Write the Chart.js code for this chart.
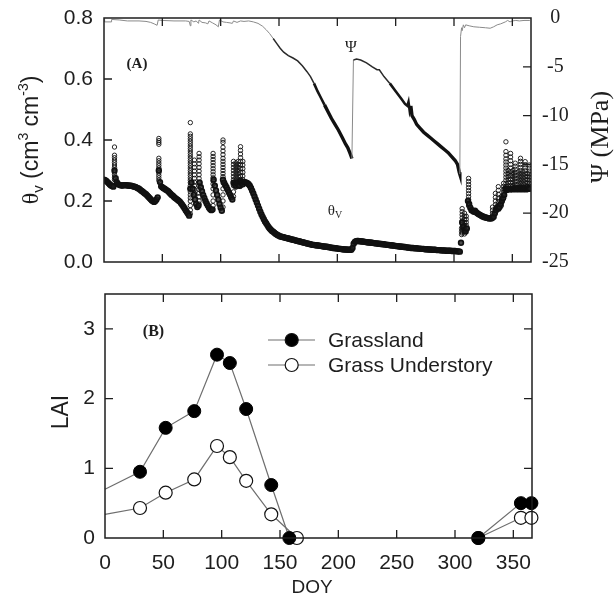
<!DOCTYPE html>
<html>
<head>
<meta charset="utf-8">
<script src="https://cdn.jsdelivr.net/npm/chart.js@4.4.0/dist/chart.umd.min.js"></script>
<style>
  body { margin: 0; background: #fff; }
  #wrap { position: relative; width: 614px; height: 597px; }
  #top { position: absolute; left: 0; top: 0; }
  #bottom { position: absolute; left: 0; top: 280px; }
</style>
</head>
<body>
<div id="wrap">
  <canvas id="top" width="614" height="280"></canvas>
  <canvas id="bottom" width="614" height="317"></canvas>
</div>
<script>
// ---- panel A: soil water content, one reading per DOY starting at DOY 0
const thetaDaily = [
  0.270, 0.268, 0.266, 0.262, 0.258, 0.254, 0.251, 0.249, 0.247, 0.300,
  0.275, 0.262, 0.256, 0.253, 0.252, 0.251, 0.251, 0.252, 0.252, 0.252,
  0.251, 0.251, 0.250, 0.250, 0.249, 0.248, 0.247, 0.246, 0.244, 0.242,
  0.240, 0.237, 0.234, 0.231, 0.228, 0.225, 0.222, 0.218, 0.214, 0.210,
  0.206, 0.202, 0.199, 0.197, 0.200, 0.205, 0.212, 0.300, 0.262, 0.248,
  0.245, 0.242, 0.240, 0.237, 0.235, 0.232, 0.228, 0.224, 0.220, 0.217,
  0.213, 0.210, 0.207, 0.204, 0.201, 0.198, 0.193, 0.188, 0.182, 0.176,
  0.170, 0.164, 0.158, 0.152, 0.240, 0.260, 0.240, 0.220, 0.205, 0.190,
  0.180, 0.185, 0.260, 0.245, 0.232, 0.220, 0.210, 0.200, 0.192, 0.185,
  0.178, 0.173, 0.170, 0.172, 0.270, 0.250, 0.235, 0.220, 0.205, 0.190,
  0.178, 0.168, 0.270, 0.260, 0.252, 0.245, 0.237, 0.229, 0.221, 0.212,
  0.205, 0.260, 0.255, 0.250, 0.260, 0.255, 0.250, 0.265, 0.260, 0.255,
  0.262, 0.262, 0.260, 0.258, 0.255, 0.250, 0.243, 0.234, 0.225, 0.215,
  0.205, 0.195, 0.185, 0.175, 0.165, 0.156, 0.148, 0.140, 0.133, 0.127,
  0.121, 0.115, 0.110, 0.106, 0.102, 0.099, 0.096, 0.093, 0.090, 0.088,
  0.086, 0.084, 0.083, 0.082, 0.081, 0.080, 0.079, 0.078, 0.077, 0.076,
  0.075, 0.074, 0.073, 0.072, 0.071, 0.070, 0.069, 0.068, 0.067, 0.066,
  0.065, 0.064, 0.063, 0.062, 0.061, 0.060, 0.059, 0.058, 0.057, 0.056,
  0.056, 0.055, 0.055, 0.054, 0.054, 0.053, 0.053, 0.052, 0.051, 0.051,
  0.050, 0.050, 0.049, 0.048, 0.048, 0.047, 0.046, 0.046, 0.045, 0.045,
  0.044, 0.044, 0.043, 0.043, 0.042, 0.042, 0.041, 0.041, 0.041, 0.040,
  0.040, 0.040, 0.040, 0.046, 0.060, 0.066, 0.068, 0.069, 0.069, 0.068,
  0.068, 0.067, 0.067, 0.066, 0.066, 0.065, 0.065, 0.064, 0.064, 0.063,
  0.063, 0.062, 0.062, 0.061, 0.061, 0.060, 0.060, 0.059, 0.059, 0.058,
  0.058, 0.057, 0.057, 0.056, 0.056, 0.055, 0.055, 0.054, 0.054, 0.053,
  0.053, 0.052, 0.052, 0.051, 0.051, 0.050, 0.050, 0.049, 0.049, 0.048,
  0.048, 0.047, 0.047, 0.046, 0.046, 0.046, 0.045, 0.045, 0.045, 0.044,
  0.044, 0.044, 0.043, 0.043, 0.043, 0.042, 0.042, 0.042, 0.041, 0.041,
  0.041, 0.040, 0.040, 0.040, 0.040, 0.039, 0.039, 0.039, 0.039, 0.038,
  0.038, 0.038, 0.038, 0.037, 0.037, 0.037, 0.037, 0.037, 0.036, 0.036,
  0.036, 0.036, 0.035, 0.035, 0.035, 0.034, 0.063, 0.130, 0.115, 0.105,
  0.100, 0.110, 0.200, 0.190, 0.178, 0.170, 0.168, 0.165, 0.168, 0.163,
  0.160, 0.157, 0.155, 0.153, 0.150, 0.149, 0.147, 0.146, 0.145, 0.144,
  0.143, 0.143, 0.143, 0.145, 0.148, 0.160, 0.170, 0.180, 0.175, 0.180,
  0.190, 0.200, 0.210, 0.220, 0.240, 0.236, 0.238, 0.240, 0.238, 0.240,
  0.238, 0.240, 0.242, 0.238, 0.240, 0.242, 0.238, 0.240, 0.242, 0.238,
  0.240, 0.242, 0.238, 0.240, 0.242, 0.240
];

// rain events: readings stacked in a column at the DOY of the storm
const rainDoy = [9, 47, 74, 77.5, 81.5, 93.5, 102, 111, 113, 115, 117, 119,
  306.5, 307, 309, 310.5, 312.5, 333, 335.5, 338, 340.5, 342.5,
  344.5, 346.5, 348.5, 350.5, 352.5, 355, 357, 359, 361, 363, 364.5];
const rainVals = [
  [0.377, 0.350, 0.342, 0.334, 0.326, 0.318, 0.310, 0.302, 0.294, 0.286, 0.278, 0.270],
  [0.405, 0.398, 0.392, 0.386, 0.340, 0.332, 0.324, 0.316, 0.308, 0.300, 0.292, 0.284, 0.276, 0.268],
  [0.457, 0.420, 0.412, 0.404, 0.396, 0.388, 0.380, 0.372, 0.364, 0.356, 0.348, 0.340, 0.332, 0.324,
   0.316, 0.308, 0.300, 0.292, 0.284, 0.276, 0.268, 0.260, 0.250, 0.240, 0.230, 0.220, 0.210, 0.200,
   0.185, 0.170, 0.158],
  [0.334, 0.322, 0.310, 0.298, 0.286, 0.274, 0.262, 0.250, 0.238, 0.226],
  [0.356, 0.345, 0.334, 0.322, 0.310, 0.298, 0.286, 0.274, 0.262, 0.250, 0.238, 0.226, 0.214, 0.200, 0.190],
  [0.356, 0.346, 0.336, 0.326, 0.316, 0.306, 0.296, 0.286, 0.276, 0.266, 0.256, 0.240, 0.220, 0.200, 0.185],
  [0.400, 0.392, 0.376, 0.364, 0.352, 0.340, 0.330, 0.320, 0.310, 0.300, 0.290, 0.280, 0.260, 0.240, 0.220, 0.200, 0.180],
  [0.330, 0.320, 0.310, 0.300, 0.290, 0.280, 0.270, 0.250, 0.230, 0.215],
  [0.325, 0.315, 0.305, 0.295, 0.285, 0.275, 0.265, 0.255, 0.245],
  [0.330, 0.320, 0.310, 0.300, 0.290, 0.280, 0.270, 0.260, 0.250],
  [0.378, 0.366, 0.354, 0.342, 0.330, 0.318, 0.306, 0.294, 0.282, 0.270, 0.258, 0.248],
  [0.330, 0.318, 0.306, 0.294, 0.282, 0.270, 0.260],
  [0.090, 0.100, 0.110],
  [0.175, 0.165, 0.155, 0.145, 0.135, 0.125, 0.115, 0.105, 0.095],
  [0.160, 0.150, 0.140, 0.130, 0.120, 0.110, 0.100, 0.092],
  [0.150, 0.140, 0.130, 0.120, 0.110],
  [0.274, 0.264, 0.254, 0.244, 0.234, 0.224, 0.214, 0.204, 0.194, 0.184],
  [0.180, 0.170, 0.160, 0.152],
  [0.225, 0.212, 0.200, 0.188, 0.176, 0.165],
  [0.247, 0.235, 0.222, 0.210, 0.198, 0.186, 0.175],
  [0.214, 0.204, 0.194, 0.184],
  [0.258, 0.248, 0.238, 0.228, 0.218, 0.208],
  [0.394, 0.362, 0.350, 0.338, 0.328, 0.318, 0.308, 0.298, 0.288, 0.278, 0.268, 0.258, 0.248],
  [0.300, 0.290, 0.280, 0.270, 0.260, 0.250],
  [0.356, 0.344, 0.332, 0.320, 0.308, 0.296, 0.284, 0.272, 0.260, 0.250, 0.242],
  [0.300, 0.290, 0.280, 0.270, 0.260, 0.250],
  [0.324, 0.314, 0.304, 0.294, 0.284, 0.274, 0.264, 0.254, 0.246],
  [0.295, 0.285, 0.275, 0.265, 0.255, 0.245],
  [0.340, 0.330, 0.320, 0.310, 0.300, 0.290, 0.280, 0.270, 0.260, 0.250, 0.242],
  [0.295, 0.285, 0.275, 0.265, 0.255, 0.245],
  [0.329, 0.319, 0.309, 0.299, 0.289, 0.279, 0.269, 0.259, 0.249],
  [0.290, 0.280, 0.270, 0.260, 0.250],
  [0.318, 0.308, 0.298, 0.288, 0.278, 0.268, 0.258, 0.248]
];

// leaf water potential (MPa)
const psiDoy = [0, 0.5, 6, 6.5, 13, 20, 30, 36, 40, 43, 45.5, 46.5, 50, 60, 70, 73, 74, 74.5,
  77, 79, 81, 81.5, 84, 87, 89, 90, 93, 96, 98, 99, 102, 105, 108, 110, 111, 114, 117, 120,
  124, 128, 132, 136, 139, 142, 145, 148, 151, 154, 158, 162, 166, 170, 174, 177, 180, 183,
  186, 189, 192, 195, 198, 201, 204, 207, 209, 211, 212.5, 213.8, 216.5, 220, 225, 230, 234,
  236, 240, 245, 250, 255, 258, 260, 261, 262, 263, 264, 266, 268, 271, 274, 277, 280, 283,
  286, 289, 292, 295, 298, 301, 303, 304.5, 305, 305.6, 306.5, 307, 308, 309, 310, 313, 317,
  322, 327, 331, 334, 337, 340, 342, 344, 346, 348, 350, 353, 356, 360, 365];
const psiVal = [-0.15, -0.4, -0.4, -0.15, -0.2, -0.3, -0.3, -0.35, -0.45, -0.6, -0.75, -0.2,
  -0.25, -0.3, -0.3, -0.35, -0.8, -0.2, -0.4, -0.3, -0.55, -0.2, -0.45, -0.5, -0.6, -0.3,
  -0.5, -0.7, -0.9, -0.2, -0.4, -0.45, -0.5, -0.55, -0.3, -0.45, -0.3, -0.35, -0.3, -0.4,
  -0.55, -0.85, -1.2, -1.6, -2.1, -2.6, -3.1, -3.5, -3.85, -4.1, -4.4, -4.9, -5.5, -6.0,
  -6.7, -7.5, -8.2, -8.9, -9.6, -10.3, -10.9, -11.5, -12.2, -12.9, -13.3, -13.9, -14.4,
  -4.3, -4.2, -4.3, -4.6, -5.0, -5.3, -5.3, -6.0, -6.7, -7.5, -8.3, -8.8, -9.0, -8.6, -9.5,
  -9.0, -10.0, -10.4, -10.9, -11.3, -11.7, -12.0, -12.3, -12.6, -12.9, -13.2, -13.5, -13.8,
  -14.2, -14.6, -15.0, -15.8, -16.0, -1.9, -1.0, -1.3, -0.7, -1.0, -0.7, -0.8, -0.9, -0.95,
  -1.0, -1.05, -0.9, -0.7, -0.6, -0.5, -0.4, -0.25, -0.4, -0.3, -0.25, -0.3, -0.25, -0.25];

const doyTicks = [0, 50, 100, 150, 200, 250, 300, 350];
const thetaTicks = [0, 0.2, 0.4, 0.6, 0.8];
const psiTicks = [0, -5, -10, -15, -20, -25];

// ---- panel B: leaf area index (null = no measurement, line is broken)
const grassDoy = [0, 30, 52, 76.5, 96, 107, 121, 142.5, 158, 240, 320, 356.5, 365.5];
const grassLai = [0.70, 0.95, 1.58, 1.82, 2.63, 2.51, 1.85, 0.76, 0, null, 0, 0.50, 0.50];
const underDoy = [0, 30, 52, 76.5, 96, 107, 121, 142.5, 164.5, 240, 320, 356.5, 365.5];
const underLai = [0.34, 0.43, 0.65, 0.84, 1.32, 1.16, 0.82, 0.34, 0, null, 0, 0.29, 0.29];
const laiTicks = [0, 1, 2, 3];

const SANS = '"Liberation Sans", Arial, sans-serif';
const SERIF = '"Liberation Serif", "Times New Roman", serif';
const INK = '#1e1e1e';

const thetaBase = thetaDaily.map((v, i) => ({ x: i, y: v }));
const thetaRain = [];
rainDoy.forEach((d, i) => rainVals[i].forEach(v => thetaRain.push({ x: d, y: v })));
const psiPoints = psiDoy.map((d, i) => ({ x: d, y: psiVal[i] }));

function richText(ctx, parts, cx, cy, angle) {
  ctx.save();
  ctx.translate(cx, cy);
  ctx.rotate(angle);
  ctx.textAlign = 'left';
  ctx.textBaseline = 'alphabetic';
  ctx.fillStyle = INK;
  let w = 0;
  parts.forEach(p => { ctx.font = p.font; p.w = ctx.measureText(p.t).width; w += p.w; });
  let x = -w / 2;
  parts.forEach(p => { ctx.font = p.font; ctx.fillText(p.t, x, p.dy || 0); x += p.w; });
  ctx.restore();
}

function frameAndTicks(ctx, a, xs, ys, yTicks, y2s, y2Ticks) {
  ctx.save();
  ctx.strokeStyle = INK;
  ctx.lineWidth = 1.5;
  ctx.strokeRect(a.left, a.top, a.right - a.left, a.bottom - a.top);
  ctx.lineWidth = 1.3;
  ctx.beginPath();
  doyTicks.filter(v => v > 0).forEach(v => {
    const px = xs.getPixelForValue(v);
    ctx.moveTo(px, a.top); ctx.lineTo(px, a.top + 8);
    ctx.moveTo(px, a.bottom); ctx.lineTo(px, a.bottom - 8);
  });
  yTicks.slice(1, -1).forEach(v => {
    const py = ys.getPixelForValue(v);
    ctx.moveTo(a.left, py); ctx.lineTo(a.left + 8, py);
    if (!y2s) { ctx.moveTo(a.right, py); ctx.lineTo(a.right - 8, py); }
  });
  if (y2s) {
    y2Ticks.slice(1, -1).forEach(v => {
      const py = y2s.getPixelForValue(v);
      ctx.moveTo(a.right, py); ctx.lineTo(a.right - 8, py);
    });
  }
  ctx.stroke();
  ctx.restore();
}

// keep the fixed plot frame: no extra room for half tick labels
function fixWidth(w) {
  return s => { s.width = w; s.paddingTop = 0; s.paddingBottom = 0; };
}

const topDecor = {
  id: 'topDecor',
  afterDraw(chart) {
    const { ctx, chartArea: a, scales } = chart;
    frameAndTicks(ctx, a, scales.x, scales.y, thetaTicks, scales.y2, psiTicks);
    ctx.save();
    ctx.fillStyle = INK;
    ctx.textAlign = 'center';
    ctx.textBaseline = 'middle';
    ctx.font = 'bold 15px ' + SERIF;
    ctx.fillText('(A)', 137, 64);
    ctx.font = '16px ' + SERIF;
    ctx.fillText('Ψ', 351, 48);
    ctx.restore();
    richText(ctx, [
      { t: 'θ', font: '15px ' + SERIF },
      { t: 'V', font: '10px ' + SERIF, dy: 3 }
    ], 335, 215, 0);
    richText(ctx, [
      { t: 'θ', font: '24px ' + SERIF },
      { t: 'v', font: '15px ' + SANS, dy: 5 },
      { t: ' (cm', font: '23px ' + SANS },
      { t: '3', font: '14px ' + SANS, dy: -10 },
      { t: ' cm', font: '23px ' + SANS },
      { t: '-3', font: '14px ' + SANS, dy: -10 },
      { t: ')', font: '23px ' + SANS }
    ], 38, 140, -Math.PI / 2);
    richText(ctx, [{ t: 'Ψ (MPa)', font: '26px ' + SERIF }], 608, 137, -Math.PI / 2);
  }
};

const bottomDecor = {
  id: 'bottomDecor',
  afterDraw(chart) {
    const { ctx, chartArea: a, scales } = chart;
    frameAndTicks(ctx, a, scales.x, scales.y, [0, 1, 2, 3, 3.5], null, null);
    ctx.save();
    ctx.fillStyle = INK;
    ctx.textAlign = 'center';
    ctx.textBaseline = 'middle';
    ctx.font = 'bold 16px ' + SERIF;
    ctx.fillText('(B)', 153.5, 52);
    ctx.font = '19px ' + SANS;
    ctx.fillText('DOY', 312, 308);
    // legend
    const rows = [
      { label: 'Grassland', y: 60, fill: '#000' },
      { label: 'Grass Understory', y: 85, fill: '#fff' }
    ];
    rows.forEach(r => {
      ctx.strokeStyle = '#6e6e6e';
      ctx.lineWidth = 1.2;
      ctx.beginPath();
      ctx.moveTo(268, r.y); ctx.lineTo(315, r.y);
      ctx.stroke();
      ctx.beginPath();
      ctx.arc(291.7, r.y, 6.5, 0, Math.PI * 2);
      ctx.fillStyle = r.fill;
      ctx.fill();
      ctx.strokeStyle = '#111';
      ctx.lineWidth = 1.2;
      ctx.stroke();
      ctx.fillStyle = INK;
      ctx.textAlign = 'left';
      ctx.font = '21px ' + SANS;
      ctx.fillText(r.label, 328, r.y + 1);
    });
    ctx.restore();
    richText(ctx, [{ t: 'LAI', font: '23px ' + SANS }], 68, 132, -Math.PI / 2);
  }
};

function psiStyle(c) {
  const y0 = c.p0.parsed.y, y1 = c.p1.parsed.y;
  const lo = Math.min(y0, y1);
  if (Math.abs(y1 - y0) > 3) return { color: '#8a8a8a', width: 1 };
  if (lo < -9.5) return { color: '#111', width: 3.4 };
  if (lo < -7) return { color: '#151515', width: 2.6 };
  if (lo < -2.5) return { color: '#2a2a2a', width: 1.5 };
  return { color: '#8a8a8a', width: 1 };
}

new Chart(document.getElementById('top'), {
  type: 'scatter',
  data: {
    datasets: [
      {
        data: thetaBase, yAxisID: 'y',
        pointStyle: 'circle', pointRadius: 2.4, pointBorderWidth: 1.6,
        borderColor: '#111', backgroundColor: 'rgba(30,30,30,0.8)', showLine: false
      },
      {
        data: thetaRain, yAxisID: 'y',
        pointStyle: 'circle', pointRadius: 2.2, pointBorderWidth: 0.9,
        borderColor: '#111', backgroundColor: 'rgba(0,0,0,0)', showLine: false
      },
      {
        data: psiPoints, yAxisID: 'y2', showLine: true, pointRadius: 0,
        borderColor: '#8a8a8a', borderWidth: 1, tension: 0,
        segment: {
          borderColor: c => psiStyle(c).color,
          borderWidth: c => psiStyle(c).width
        }
      }
    ]
  },
  options: {
    responsive: false,
    animation: false,
    events: [],
    layout: { padding: { top: 18, bottom: 18 } },
    plugins: { legend: { display: false }, tooltip: { enabled: false } },
    scales: {
      x: { type: 'linear', display: false, min: 0, max: 366 },
      y: {
        position: 'left', min: 0, max: 0.8,
        afterFit: fixWidth(104),
        afterBuildTicks: s => { s.ticks = thetaTicks.map(v => ({ value: v })); },
        grid: { display: false, drawTicks: false },
        border: { display: false },
        ticks: { padding: 11, color: INK, font: { family: SANS, size: 21 }, callback: v => v.toFixed(1) }
      },
      y2: {
        position: 'right', min: -25, max: 0,
        afterFit: fixWidth(83),
        afterBuildTicks: s => { s.ticks = psiTicks.map(v => ({ value: v })); },
        grid: { display: false, drawTicks: false },
        border: { display: false },
        ticks: { padding: 11, crossAlign: 'center', color: INK, font: { family: SERIF, size: 20 }, callback: v => String(v) }
      }
    }
  },
  plugins: [topDecor]
});

const laiRadius = c => c.dataIndex === 0 ? 0 : 6.5;

new Chart(document.getElementById('bottom'), {
  type: 'scatter',
  data: {
    datasets: [
      {
        label: 'Grassland',
        data: grassDoy.map((d, i) => ({ x: d, y: grassLai[i] })),
        showLine: true, spanGaps: false, clip: 10,
        borderColor: '#6e6e6e', borderWidth: 1.2,
        pointRadius: laiRadius, pointBackgroundColor: '#000',
        pointBorderColor: '#000', pointBorderWidth: 1
      },
      {
        label: 'Grass Understory',
        data: underDoy.map((d, i) => ({ x: d, y: underLai[i] })),
        showLine: true, spanGaps: false, clip: 10,
        borderColor: '#6e6e6e', borderWidth: 1.2,
        pointRadius: laiRadius, pointBackgroundColor: '#fff',
        pointBorderColor: '#111', pointBorderWidth: 1.2
      }
    ]
  },
  options: {
    responsive: false,
    animation: false,
    events: [],
    layout: { padding: { top: 14, right: 82 } },
    plugins: { legend: { display: false }, tooltip: { enabled: false } },
    scales: {
      x: {
        type: 'linear', min: 0, max: 366,
        afterFit: s => { s.height = 59; },
        afterBuildTicks: s => { s.ticks = doyTicks.map(v => ({ value: v })); },
        grid: { display: false, drawTicks: false },
        border: { display: false },
        ticks: { padding: 13, color: INK, maxRotation: 0, font: { family: SANS, size: 21 } }
      },
      y: {
        min: 0, max: 3.5,
        afterFit: fixWidth(105),
        afterBuildTicks: s => { s.ticks = laiTicks.map(v => ({ value: v })); },
        grid: { display: false, drawTicks: false },
        border: { display: false },
        ticks: { padding: 10, color: INK, font: { family: SANS, size: 21 } }
      }
    }
  },
  plugins: [bottomDecor]
});
</script>
</body>
</html>
